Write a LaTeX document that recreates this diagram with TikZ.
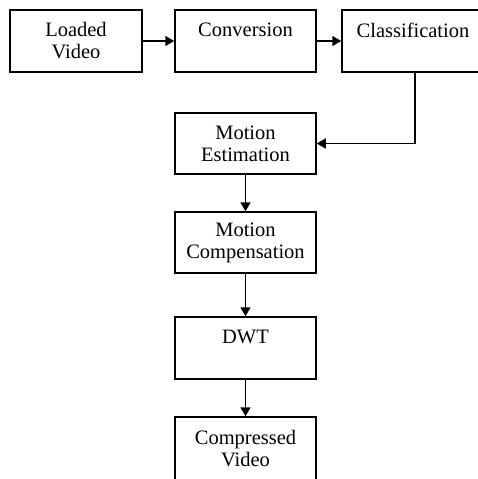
\documentclass[tikz,border=0pt]{standalone}
\usepackage{fontspec}
\setmainfont{Liberation Serif}
\usetikzlibrary{arrows.meta}
\begin{document}
\begin{tikzpicture}[x=1pt,y=-1pt,
  box/.style={draw=black, line width=1.5pt, minimum height=62pt, inner sep=0pt,
    align=center, font=\fontsize{20.5}{22}\selectfont},
  arr/.style={line width=1.6pt, -{Triangle[length=9pt,width=10pt]}}]
\useasboundingbox (0,0) rectangle (477,479);
\node[box, minimum width=132pt] (lv) at (76,41) {Loaded\\Video};
\node[box, minimum width=141pt] (conv) at (245.5,41) {Conversion\\\mbox{}};
\node[box, minimum width=142pt] (cls) at (413,41) {Classification\\\mbox{}};
\node[box, minimum width=141pt, minimum height=61pt] (me) at (245.5,143.5) {Motion\\Estimation};
\node[box, minimum width=141pt, minimum height=61pt] (mc) at (245.5,242.5) {Motion\\Compensation};
\node[box, minimum width=141pt] (dwt) at (245.5,348) {DWT\\\mbox{}};
\node[box, minimum width=141pt, minimum height=64pt] (cv) at (245.5,449) {Compressed\\Video};
\draw[arr] (lv) -- (conv);
\draw[arr] (conv) -- (cls);
\draw[arr] ([xshift=2pt]cls.south) |- (me.east);
\draw[arr] (me) -- (mc);
\draw[arr] (mc) -- (dwt);
\draw[arr] (dwt) -- (cv);
\end{tikzpicture}
\end{document}
